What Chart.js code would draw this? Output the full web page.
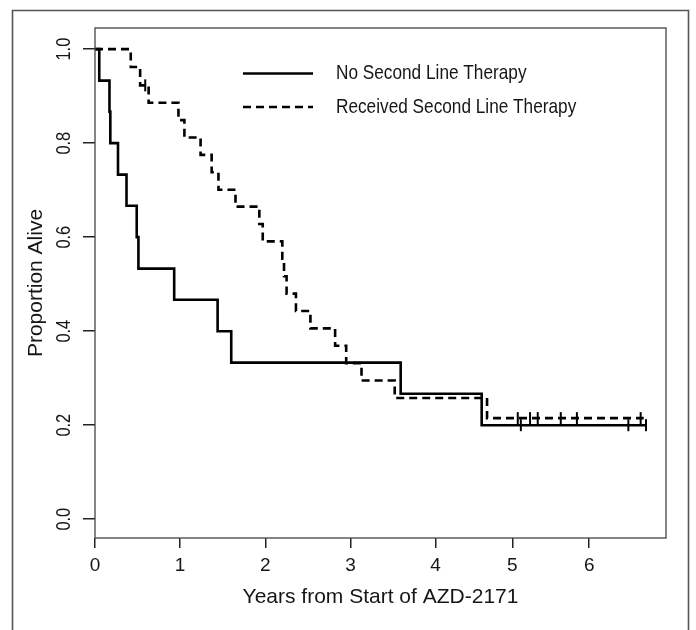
<!DOCTYPE html>
<html>
<head>
<meta charset="utf-8">
<script src="https://cdn.jsdelivr.net/npm/chart.js@4.4.1/dist/chart.umd.min.js"></script>
<style>
  html, body { margin: 0; padding: 0; background: #fff; }
  canvas { display: block; }
</style>
</head>
<body>
<canvas id="km" width="696" height="630"></canvas>
<script>
// Kaplan-Meier steps: time (years) and proportion alive after each drop
const noSecondTime = [0, 0.05, 0.17, 0.18, 0.27, 0.37, 0.49, 0.51, 0.93, 1.44, 1.6, 3.59, 4.6, 6.74];
const noSecondSurv = [1, 0.933, 0.867, 0.8, 0.733, 0.667, 0.6, 0.533, 0.467, 0.4, 0.333, 0.267, 0.2, 0.2];
const noSecondCensorTime = [5.11, 6.51, 6.74];
const noSecondCensorSurv = [0.2, 0.2, 0.2];

const secondTime = [0, 0.42, 0.53, 0.63, 0.98, 1.05, 1.24, 1.37, 1.45, 1.65, 1.93, 1.97, 2.2, 2.22, 2.25, 2.36, 2.53, 2.82, 2.95, 3.13, 3.52, 4.67, 6.71];
const secondSurv = [1, 0.962, 0.923, 0.886, 0.849, 0.812, 0.775, 0.738, 0.701, 0.665, 0.628, 0.591, 0.554, 0.517, 0.48, 0.443, 0.406, 0.369, 0.332, 0.295, 0.258, 0.215, 0.215];
const secondCensorTime = [0.59, 5.07, 5.23, 5.33, 5.63, 5.84, 6.67];
const secondCensorSurv = [0.923, 0.215, 0.215, 0.215, 0.215, 0.215, 0.215];

const seriesLabels = ['No Second Line Therapy', 'Received Second Line Therapy'];
const xTicks = [0, 1, 2, 3, 4, 5, 6];
const yTicks = [0, 0.2, 0.4, 0.6, 0.8, 1.0];

const zip = (xs, ys) => xs.map((x, i) => ({ x, y: ys[i] }));

// the printed x axis is a bit squeezed after year 4
const SQUEEZE = 0.902;
class SqueezedScale extends Chart.LinearScale {
  static id = 'squeezed';
  warp(v) { return v <= 4 ? v : 4 + (v - 4) * SQUEEZE; }
  unwarp(w) { return w <= 4 ? w : 4 + (w - 4) / SQUEEZE; }
  getPixelForValue(v) {
    if (v === null || v === undefined) return NaN;
    const a = this.warp(this.min), b = this.warp(this.max);
    return this.getPixelForDecimal((this.warp(v) - a) / (b - a));
  }
  getValueForPixel(p) {
    const a = this.warp(this.min), b = this.warp(this.max);
    return this.unwarp(a + this.getDecimalForPixel(p) * (b - a));
  }
}
Chart.register(SqueezedScale);

const textColor = '#161616';
const sans = '"Liberation Sans", Arial, sans-serif';
const NARROW = 0.82; // no condensed font installed, so squeeze the regular one

const censorStyle = {
  showLine: false,
  pointStyle: 'line',
  pointRotation: 90,
  pointRadius: 6,
  pointBorderWidth: 2,
  pointBorderColor: '#000',
  borderColor: '#000'
};

const decor = {
  id: 'decor',
  afterDraw(chart) {
    const { ctx, chartArea: a, scales: { y } } = chart;
    ctx.save();
    // outer frame, open at the bottom
    ctx.strokeStyle = '#555';
    ctx.lineWidth = 1.6;
    ctx.beginPath();
    ctx.moveTo(12.5, 630); ctx.lineTo(12.5, 10.5); ctx.lineTo(688.5, 10.5); ctx.lineTo(688.5, 630);
    ctx.stroke();
    // plot box
    ctx.strokeStyle = '#444';
    ctx.lineWidth = 1.3;
    ctx.strokeRect(a.left, a.top, a.right - a.left, a.bottom - a.top);
    // y tick labels, turned like in R
    ctx.fillStyle = textColor;
    ctx.font = '20px ' + sans;
    ctx.textAlign = 'center';
    ctx.textBaseline = 'middle';
    y.ticks.forEach(t => {
      ctx.save();
      ctx.translate(a.left - 31, y.getPixelForValue(t.value));
      ctx.rotate(-Math.PI / 2);
      ctx.scale(NARROW, 1);
      ctx.fillText(t.label, 0, 0);
      ctx.restore();
    });
    // legend
    ctx.font = '21px ' + sans;
    ctx.textAlign = 'left';
    [73.5, 107].forEach((ly, i) => {
      const ds = chart.data.datasets[i];
      ctx.strokeStyle = '#000';
      ctx.lineWidth = 2.6;
      ctx.setLineDash(ds.borderDash || []);
      ctx.beginPath();
      ctx.moveTo(243, ly); ctx.lineTo(313, ly);
      ctx.stroke();
      ctx.setLineDash([]);
      ctx.save();
      ctx.translate(336, ly);
      ctx.scale(NARROW, 1);
      ctx.fillText(ds.label, 0, 0);
      ctx.restore();
    });
    ctx.restore();
  }
};

new Chart(document.getElementById('km'), {
  type: 'line',
  data: {
    datasets: [
      { label: seriesLabels[0], data: zip(noSecondTime, noSecondSurv), stepped: 'before',
        borderColor: '#000', borderWidth: 2.6, pointRadius: 0, fill: false },
      { label: seriesLabels[1], data: zip(secondTime, secondSurv), stepped: 'before',
        borderColor: '#000', borderWidth: 2.6, borderDash: [8, 5], pointRadius: 0, fill: false },
      { label: 'censored 1', data: zip(noSecondCensorTime, noSecondCensorSurv), ...censorStyle },
      { label: 'censored 2', data: zip(secondCensorTime, secondCensorSurv), ...censorStyle }
    ]
  },
  options: {
    responsive: false,
    animation: false,
    layout: { padding: { top: 28, right: 30, left: 0, bottom: 0 } },
    plugins: { legend: { display: false }, tooltip: { enabled: false } },
    scales: {
      x: {
        type: 'squeezed',
        min: 0,
        max: 7,
        afterBuildTicks: s => { s.ticks = xTicks.map(v => ({ value: v })); },
        afterFit: s => { s.height = 92; },
        border: { display: false },
        grid: { drawOnChartArea: false, tickLength: 10, color: '#222', lineWidth: 1.5 },
        ticks: { padding: 6, color: textColor, font: { family: sans, size: 19 },
                 callback: v => String(v), maxRotation: 0 },
        title: { display: true, text: 'Years from Start of AZD-2171', color: textColor,
                 font: { family: sans, size: 21 }, padding: { bottom: 20 } }
      },
      y: {
        min: -0.04,
        max: 1.045,
        afterBuildTicks: s => { s.ticks = yTicks.map(v => ({ value: v })); },
        afterFit: s => { s.width = 95; },
        border: { display: false },
        grid: { drawOnChartArea: false, tickLength: 12, color: '#222', lineWidth: 1.5 },
        ticks: { display: false, callback: v => v.toFixed(1) },
        title: { display: true, text: 'Proportion Alive', color: textColor,
                 font: { family: sans, size: 21 }, padding: { top: 24 } }
      }
    }
  },
  plugins: [decor]
});
</script>
</body>
</html>
